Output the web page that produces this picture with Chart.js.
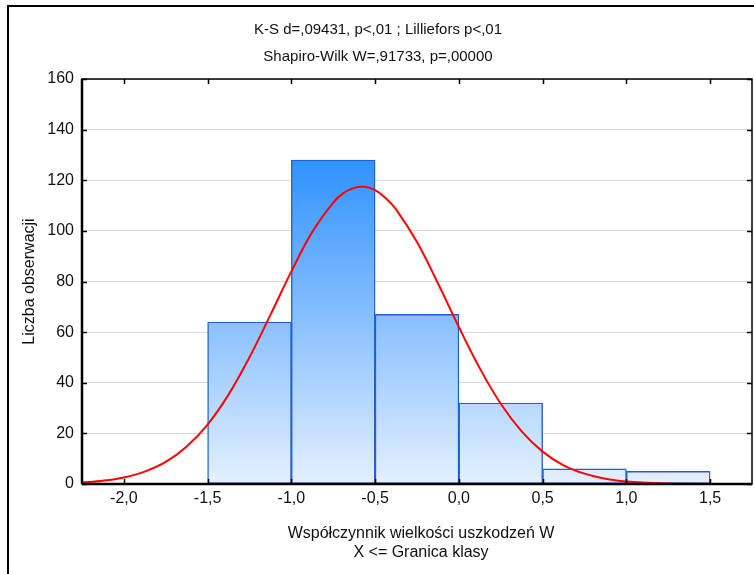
<!DOCTYPE html>
<html>
<head>
<meta charset="utf-8">
<script src="https://cdn.jsdelivr.net/npm/chart.js@4/dist/chart.umd.min.js"></script>
<style>
  html, body { margin: 0; padding: 0; background: #ffffff; }
  #wrap { position: relative; width: 754px; height: 574px; }
</style>
</head>
<body>
<div id="wrap"><canvas id="c" width="754" height="574"></canvas></div>
<script>
// ---- data ----
const titleLines = ["K-S d=,09431, p<,01 ; Lilliefors p<,01", "Shapiro-Wilk W=,91733, p=,00000"];
const xTitleLines = ["Współczynnik wielkości uszkodzeń W", "X <= Granica klasy"];
const yTitle = "Liczba obserwacji";

const binLower = [-1.5, -1.0, -0.5, 0.0, 0.5, 1.0];
const binUpper = [-1.0, -0.5, 0.0, 0.5, 1.0, 1.5];
const counts   = [64, 128, 67, 32, 6, 5];

// fitted normal curve
const curveX = [-2.25, -2.125, -2.0, -1.875, -1.75, -1.625, -1.5, -1.375, -1.25, -1.125, -1.0, -0.875, -0.75, -0.6875, -0.625, -0.5625, -0.5, -0.4375, -0.375, -0.25, -0.125, 0.0, 0.125, 0.25, 0.375, 0.5, 0.625, 0.75, 0.875, 1.0, 1.125, 1.25, 1.5, 1.75];
const curveY = [0.6, 1.3, 2.6, 4.9, 8.7, 14.8, 23.5, 35.3, 50.1, 66.8, 84.0, 99.6, 111.2, 115.0, 117.0, 117.4, 116.1, 113.0, 108.5, 95.6, 79.3, 62.0, 45.7, 31.7, 20.8, 12.8, 7.4, 4.1, 2.1, 1.0, 0.5, 0.2, 0.03, 0.0];

const xTickValues = [-2.0, -1.5, -1.0, -0.5, 0.0, 0.5, 1.0, 1.5];
const xTickLabels = ["-2,0", "-1,5", "-1,0", "-0,5", "0,0", "0,5", "1,0", "1,5"];
const yTickValues = [0, 20, 40, 60, 80, 100, 120, 140, 160];
const yTickLabels = ["0", "20", "40", "60", "80", "100", "120", "140", "160"];

// ---- chart ----
const FONT = "'Liberation Sans', Arial, sans-serif";

function barGradient(ctx) {
  const chart = ctx.chart;
  const area = chart.chartArea;
  if (!area) return '#8fc3fa';
  const ys = chart.scales.y;
  const top = ys.getPixelForValue(Math.max(...counts));
  const g = chart.ctx.createLinearGradient(0, top, 0, area.bottom);
  g.addColorStop(0, '#2f92ff');
  g.addColorStop(1, '#e4f0ff');
  return g;
}

const decorPlugin = {
  id: 'decor',
  beforeDraw(chart) {
    const c = chart.ctx;
    c.save();
    c.fillStyle = '#ffffff';
    c.fillRect(0, 0, chart.width, chart.height);
    c.strokeStyle = '#000000';
    c.lineWidth = 2;
    c.beginPath();
    c.moveTo(8, chart.height + 2);
    c.lineTo(8, 6);
    c.lineTo(chart.width + 2, 6);
    c.stroke();
    c.restore();
  },
  afterDatasetsDraw(chart) {
    const c = chart.ctx;
    const a = chart.chartArea;
    const xs = chart.scales.x, ys = chart.scales.y;
    c.save();
    c.strokeStyle = '#000000';
    c.lineWidth = 1.5;
    c.strokeRect(a.left, a.top, a.right - a.left, a.bottom - a.top);
    c.beginPath();
    xTickValues.forEach(v => {
      const px = Math.round(xs.getPixelForValue(v)) + 0.5;
      c.moveTo(px, a.bottom); c.lineTo(px, a.bottom - 5);
      c.moveTo(px, a.top); c.lineTo(px, a.top + 5);
    });
    yTickValues.forEach(v => {
      const py = Math.round(ys.getPixelForValue(v)) + 0.5;
      c.moveTo(a.left, py); c.lineTo(a.left + 5, py);
      c.moveTo(a.right, py); c.lineTo(a.right - 5, py);
    });
    c.stroke();
    c.lineWidth = 2.5;
    c.beginPath();
    c.moveTo(a.left, a.bottom); c.lineTo(a.right, a.bottom);
    c.moveTo(a.left, a.top); c.lineTo(a.left, a.bottom);
    c.stroke();

    c.fillStyle = '#111111';
    c.textAlign = 'center';
    c.textBaseline = 'middle';
    c.font = '15px ' + FONT;
    c.fillText(titleLines[0], 378, 30);
    c.fillText(titleLines[1], 378, 57);
    c.font = '16px ' + FONT;
    const cx = (a.left + a.right) / 2 + 4;
    c.fillText(xTitleLines[0], cx, 534);
    c.fillText(xTitleLines[1], cx, 553);
    c.translate(30, (a.top + a.bottom) / 2);
    c.rotate(-Math.PI / 2);
    c.fillText(yTitle, 0, 0);
    c.restore();
  }
};

new Chart(document.getElementById('c'), {
  type: 'bar',
  data: {
    datasets: [
      {
        type: 'line',
        data: curveX.map((x, i) => ({ x: x, y: curveY[i] })),
        borderColor: '#ff0000',
        borderWidth: 2,
        pointRadius: 0,
        fill: false,
        tension: 0.4,
        order: 0
      },
      {
        type: 'bar',
        data: binLower.map((lo, i) => ({ x: (lo + binUpper[i]) / 2, y: counts[i] })),
        backgroundColor: barGradient,
        borderColor: '#1f5fd0',
        borderWidth: 1.4,
        borderSkipped: false,
        barPercentage: 1.0,
        categoryPercentage: 1.0,
        grouped: false,
        order: 1
      }
    ]
  },
  options: {
    responsive: false,
    animation: false,
    layout: { padding: { left: 0, right: 2, top: 79, bottom: 0 } },
    plugins: { legend: { display: false }, tooltip: { enabled: false }, title: { display: false } },
    scales: {
      x: {
        type: 'linear',
        offset: false,
        min: -2.25, max: 1.75,
        afterFit: s => { s.height = 90; },
        afterBuildTicks: s => { s.ticks = xTickValues.map(v => ({ value: v })); },
        grid: { display: false, drawTicks: false, offset: false },
        border: { display: false },
        ticks: {
          padding: 5,
          autoSkip: false,
          maxRotation: 0,
          color: '#111111',
          font: { family: FONT, size: 16 },
          callback: (v) => { const i = xTickValues.indexOf(v); return i >= 0 ? xTickLabels[i] : ''; }
        }
      },
      y: {
        min: 0, max: 160,
        afterFit: s => { s.width = 82; },
        afterBuildTicks: s => { s.ticks = yTickValues.map(v => ({ value: v })); },
        grid: { color: '#dadada', lineWidth: 1, drawTicks: false },
        border: { display: false },
        ticks: {
          padding: 8,
          color: '#111111',
          font: { family: FONT, size: 16 },
          callback: (v) => { const i = yTickValues.indexOf(v); return i >= 0 ? yTickLabels[i] : ''; }
        }
      }
    }
  },
  plugins: [decorPlugin]
});
</script>
</body>
</html>
